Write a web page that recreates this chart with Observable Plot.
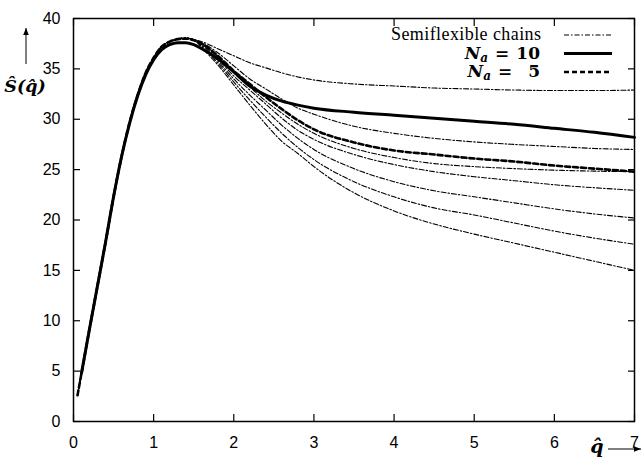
<!DOCTYPE html>
<html><head><meta charset="utf-8">
<script src="https://cdn.jsdelivr.net/npm/d3@7"></script>
<script src="https://cdn.jsdelivr.net/npm/@observablehq/plot@0.6"></script>
<style>body{margin:0;background:#fff} svg{display:block}</style>
</head><body><div id="chart"></div><script>
const q = [0.05,0.1,0.2,0.3,0.4,0.5,0.6,0.7,0.8,0.9,1.0,1.1,1.2,1.3,1.4,1.5,1.6,1.8,2.0,2.2,2.4,2.6,2.8,3.0,3.5,4.0,4.5,5.0,5.5,6.0,6.5,7.0];
const na10 = [null,4.8,9.2,13.5,17.8,22.3,26.3,29.6,32.3,34.4,35.9,36.9,37.4,37.6,37.6,37.4,37.0,36.0,34.7,33.3,32.4,31.8,31.4,31.1,30.7,30.4,30.1,29.8,29.5,29.1,28.7,28.2];
const na5 = [2.6,4.8,9.2,13.5,17.8,22.3,26.3,29.7,32.4,34.6,36.1,37.2,37.7,37.95,38.0,37.85,37.5,36.3,34.8,33.5,32.2,31.0,29.9,29.0,27.7,26.9,26.5,26.1,25.8,25.4,25.1,24.8];
const semi1 = [2.6,4.8,9.2,13.5,17.8,22.3,26.3,29.7,32.4,34.6,36.1,37.2,37.7,37.95,38.05,37.9,37.7,37.0,36.3,35.6,35.1,34.6,34.2,33.9,33.5,33.3,33.1,33.0,32.9,32.85,32.85,32.9];
const semi2 = [2.6,4.8,9.2,13.5,17.8,22.3,26.3,29.7,32.4,34.6,36.1,37.2,37.7,37.95,38.05,37.9,37.6,36.6,35.3,34.0,33.0,32.0,31.1,30.5,29.3,28.6,28.1,27.75,27.5,27.3,27.1,27.0];
const semi3 = [2.6,4.8,9.2,13.5,17.8,22.3,26.3,29.7,32.4,34.6,36.1,37.2,37.7,37.95,38.05,37.9,37.5,36.2,34.6,33.2,31.8,30.6,29.5,28.6,27.1,26.2,25.6,25.3,25.1,24.95,24.85,24.8];
const semi4 = [2.6,4.8,9.2,13.5,17.8,22.3,26.3,29.7,32.4,34.6,36.1,37.2,37.7,37.95,38.05,37.9,37.4,36.0,34.3,32.9,31.5,30.1,28.9,28.0,26.5,25.5,24.8,24.3,23.9,23.5,23.2,22.95];
const semi5 = [2.6,4.8,9.2,13.5,17.8,22.3,26.3,29.7,32.4,34.6,36.1,37.2,37.7,37.95,38.05,37.9,37.3,35.8,34.0,32.4,30.9,29.4,28.1,27.0,25.1,23.8,22.9,22.3,21.7,21.1,20.6,20.2];
const semi6 = [2.6,4.8,9.2,13.5,17.8,22.3,26.3,29.7,32.4,34.6,36.1,37.2,37.7,37.95,38.05,37.9,37.2,35.6,33.7,31.9,30.2,28.6,27.2,26.0,23.8,22.3,21.2,20.5,19.7,18.9,18.2,17.6];
const semi7 = [2.6,4.8,9.2,13.5,17.8,22.3,26.3,29.7,32.4,34.6,36.1,37.2,37.7,37.95,38.05,37.9,37.1,35.4,33.4,31.4,29.5,27.8,26.6,25.3,22.7,20.9,19.6,18.6,17.7,16.8,15.9,15.0];
const xTicks = [0,1,2,3,4,5,6,7];
const yTicks = [0,5,10,15,20,25,30,35,40];
const legendLabels = ["Semiflexible chains", "10", "5"];

const semiSeries = [semi1, semi2, semi3, semi4, semi5, semi6, semi7];
const semiRows = semiSeries.flatMap((arr, i) => arr.map((s, j) => ({q: q[j], S: s, id: "s" + i})));
const na10Rows = na10.map((s, j) => ({q: q[j], S: s})).filter(d => d.S != null);
const na5Rows = na5.map((s, j) => ({q: q[j], S: s}));

const serif = "'Liberation Serif', 'DejaVu Serif', serif";
const mathSerif = "'DejaVu Serif', 'Liberation Serif', serif";
const sans = "'Liberation Sans', Arial, sans-serif";

const chart = Plot.plot({
  width: 642, height: 457,
  marginLeft: 73, marginRight: 8, marginTop: 18, marginBottom: 36,
  style: {fontFamily: sans, fontSize: "16px", color: "#000", background: "#fff"},
  x: {domain: [0, 7]},
  y: {domain: [0, 40]},
  marks: [
    Plot.axisX({ticks: xTicks, tickSize: -7, tickPadding: 22, tickFormat: d => String(d), label: null, fontSize: 16, strokeWidth: 1.2}),
    Plot.axisX({anchor: "top", ticks: xTicks, tickSize: -7, tickFormat: () => "", label: null, strokeWidth: 1.2}),
    Plot.axisY({ticks: yTicks, tickSize: -7, tickPadding: 20, tickFormat: d => String(d), label: null, fontSize: 16, strokeWidth: 1.2}),
    Plot.axisY({anchor: "right", ticks: yTicks, tickSize: -7, tickFormat: () => "", label: null, strokeWidth: 1.2}),
    Plot.line(semiRows, {x: "q", y: "S", z: "id", stroke: "#000", strokeWidth: 1.1, strokeDasharray: "5,2,1.5,2", curve: "monotone-x"}),
    Plot.line(na5Rows, {x: "q", y: "S", stroke: "#000", strokeWidth: 2.6, strokeDasharray: "5,3", curve: "monotone-x"}),
    Plot.line(na10Rows, {x: "q", y: "S", stroke: "#000", strokeWidth: 3, curve: "monotone-x"}),
    Plot.frame({stroke: "#000", strokeWidth: 1.5})
  ]
});
document.getElementById("chart").appendChild(chart);

const svg = d3.select(chart);
const defs = svg.append("defs");
defs.append("marker").attr("id", "ah").attr("viewBox", "0 0 10 10").attr("refX", 10).attr("refY", 5)
  .attr("markerWidth", 7).attr("markerHeight", 7).attr("orient", "auto-start-reverse")
  .append("path").attr("d", "M0,1 L10,5 L0,9 z").attr("fill", "#000");

// y label with arrow
svg.append("line").attr("x1", 26).attr("y1", 64).attr("x2", 26).attr("y2", 28)
  .attr("stroke", "#000").attr("stroke-width", 1).attr("marker-end", "url(#ah)");
svg.append("text").attr("x", 25).attr("y", 92).attr("text-anchor", "middle")
  .attr("font-family", mathSerif).attr("font-size", 17.5).attr("font-weight", "bold").attr("font-style", "italic")
  .text("Ŝ(q̂)");
// x label with arrow
svg.append("text").attr("x", 597).attr("y", 453).attr("text-anchor", "middle")
  .attr("font-family", mathSerif).attr("font-size", 19).attr("font-weight", "bold").attr("font-style", "italic")
  .text("q̂");
svg.append("line").attr("x1", 608).attr("y1", 449).attr("x2", 641).attr("y2", 449)
  .attr("stroke", "#000").attr("stroke-width", 1).attr("marker-end", "url(#ah)");

// legend
const lg = svg.append("g");
const rowsY = [35, 53.5, 72];
lg.append("text").attr("x", 541).attr("y", rowsY[0] + 5).attr("text-anchor", "end")
  .attr("font-family", serif).attr("font-size", 18).attr("textLength", 150).text(legendLabels[0]);
[1, 2].forEach(i => {
  const t = lg.append("text").attr("x", 540).attr("y", rowsY[i] + 5).attr("text-anchor", "end")
    .attr("font-family", mathSerif).attr("font-size", 17).attr("font-weight", "bold");
  t.append("tspan").attr("font-style", "italic").text("N");
  t.append("tspan").attr("font-style", "italic").attr("font-size", 12).attr("dy", 3).text("a");
  t.append("tspan").attr("dy", -3).attr("dx", 7).text("=");
  t.append("tspan").attr("dx", i === 1 ? 7 : 16).text(legendLabels[i]);
});
lg.append("line").attr("x1", 564).attr("x2", 612).attr("y1", rowsY[0]).attr("y2", rowsY[0])
  .attr("stroke", "#000").attr("stroke-width", 1.1).attr("stroke-dasharray", "5,2,1.5,2");
lg.append("line").attr("x1", 564).attr("x2", 612).attr("y1", rowsY[1]).attr("y2", rowsY[1])
  .attr("stroke", "#000").attr("stroke-width", 3);
lg.append("line").attr("x1", 564).attr("x2", 612).attr("y1", rowsY[2]).attr("y2", rowsY[2])
  .attr("stroke", "#000").attr("stroke-width", 2.6).attr("stroke-dasharray", "5,3");
</script></body></html>
